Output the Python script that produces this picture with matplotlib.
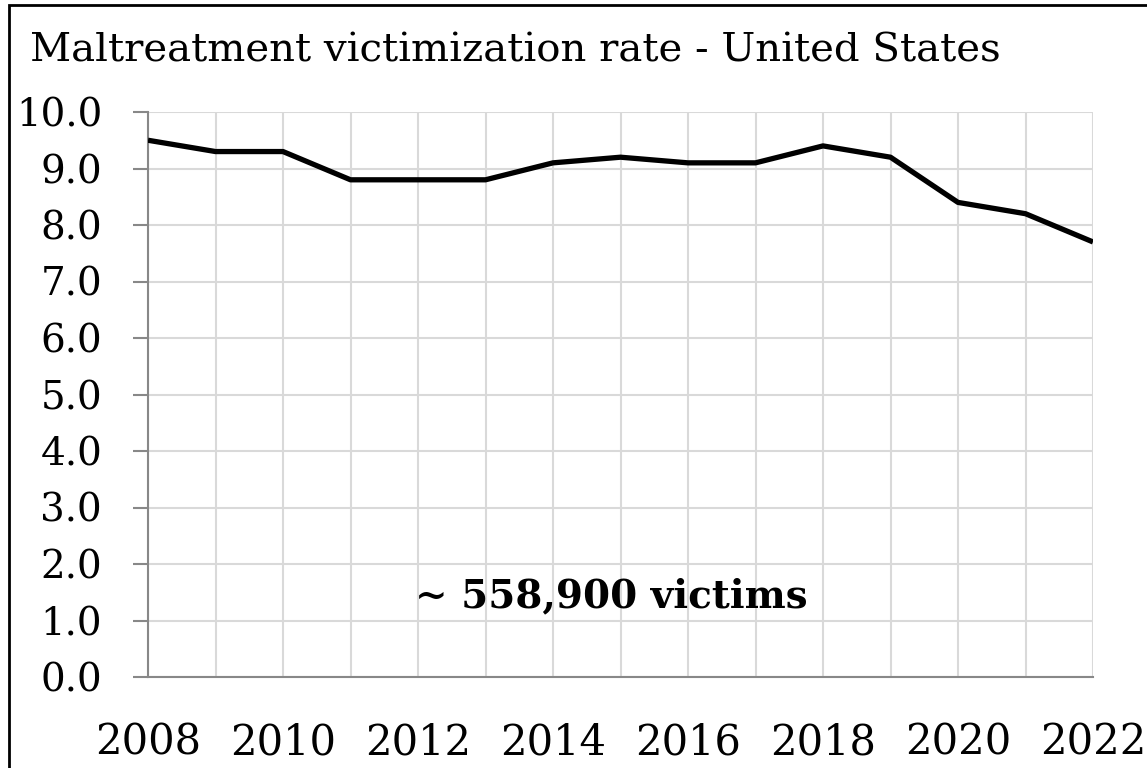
import matplotlib
matplotlib.use('Agg')
import matplotlib.pyplot as plt
from matplotlib.patches import Rectangle

# Données
annees = [2008, 2009, 2010, 2011, 2012, 2013, 2014, 2015, 2016, 2017, 2018, 2019, 2020, 2021, 2022]
taux = [9.5, 9.3, 9.3, 8.8, 8.8, 8.8, 9.1, 9.2, 9.1, 9.1, 9.4, 9.2, 8.4, 8.2, 7.7]
annees_labels = [2008, 2010, 2012, 2014, 2016, 2018, 2020, 2022]
y_ticks = [0, 1, 2, 3, 4, 5, 6, 7, 8, 9, 10]
titre = "Maltreatment victimization rate - United States"
note = "~ 558,900 victims"

plt.rcParams['font.family'] = ['DejaVu Serif']

fig = plt.figure(figsize=(11.47, 7.68), dpi=100)
ax = fig.add_axes([148/1147, 1 - 677/768, (1093 - 148)/1147, (677 - 112)/768])

ax.plot(annees, taux, color='black', linewidth=3.8, solid_capstyle='butt', zorder=3)

ax.set_xlim(2008, 2022)
ax.set_ylim(0, 10)
ax.set_xticks(annees, minor=True)
ax.set_xticks(annees_labels)
ax.set_xticklabels([str(a) for a in annees_labels], fontsize=30)
ax.set_yticks(y_ticks)
ax.set_yticklabels([f"{v:.1f}" for v in y_ticks], fontsize=28)

ax.grid(True, which='both', axis='x', color='#d9d9d9', linewidth=1.5)
ax.grid(True, which='major', axis='y', color='#d9d9d9', linewidth=1.5)
ax.set_axisbelow(True)

for s in ['top', 'right']:
    ax.spines[s].set_visible(False)
for s in ['left', 'bottom']:
    ax.spines[s].set_color('#888888')
    ax.spines[s].set_linewidth(1.5)

ax.tick_params(axis='y', length=11, width=1.5, color='#888888', pad=22)
ax.tick_params(axis='x', which='both', length=0, pad=32)

ax.text(2014.86, 1.43, note, fontsize=28, fontweight='bold', ha='center', va='center')

fig.text(30/1147, 1 - 61/768, titre, fontsize=29, ha='left', va='baseline')

# cadre autour de la figure
fig.patches.append(Rectangle((9/1147, -0.1), 1.2, 1 - 5/768 + 0.1, transform=fig.transFigure,
                             fill=False, edgecolor='black', linewidth=2))

plt.savefig('out.png', dpi=100)
plt.close()
